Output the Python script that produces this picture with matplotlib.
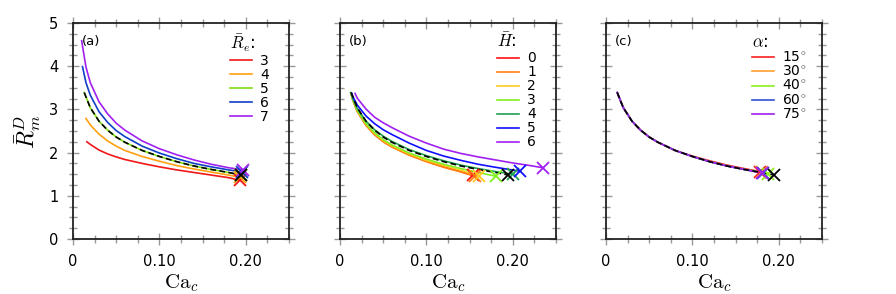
import matplotlib
matplotlib.use('Agg')
import matplotlib.pyplot as plt
from matplotlib.ticker import MultipleLocator, FixedLocator

plt.rcParams['font.family'] = ['DejaVu Sans']
plt.rcParams['mathtext.fontset'] = 'cm'

# reference case (black dashed), shared by all panels
ref_x = [0.013, 0.02, 0.03, 0.04, 0.05, 0.06, 0.08, 0.10, 0.12, 0.14, 0.16, 0.18, 0.195]
ref_y = [3.39, 3.04, 2.73, 2.52, 2.36, 2.24, 2.05, 1.91, 1.79, 1.69, 1.61, 1.54, 1.48]

# (a) R_e
re_labels = ['3', '4', '5', '6', '7']
re_colors = ['#f01818', '#ffa010', '#80e010', '#1040c8', '#a020f0']
re_x = [
    [0.016, 0.02, 0.03, 0.04, 0.05, 0.06, 0.08, 0.10, 0.12, 0.14, 0.16, 0.18, 0.193],
    [0.015, 0.02, 0.03, 0.04, 0.05, 0.06, 0.08, 0.10, 0.12, 0.14, 0.16, 0.18, 0.193],
    [0.013, 0.02, 0.03, 0.04, 0.05, 0.06, 0.08, 0.10, 0.12, 0.14, 0.16, 0.18, 0.195],
    [0.011, 0.015, 0.02, 0.03, 0.04, 0.05, 0.06, 0.08, 0.10, 0.12, 0.14, 0.16, 0.18, 0.196],
    [0.010, 0.015, 0.02, 0.03, 0.04, 0.05, 0.06, 0.08, 0.10, 0.12, 0.14, 0.16, 0.18, 0.197],
]
re_y = [
    [2.25, 2.19, 2.06, 1.97, 1.90, 1.84, 1.75, 1.67, 1.60, 1.54, 1.48, 1.42, 1.36],
    [2.79, 2.64, 2.43, 2.27, 2.15, 2.05, 1.91, 1.80, 1.70, 1.62, 1.55, 1.48, 1.43],
    [3.39, 3.04, 2.73, 2.52, 2.36, 2.24, 2.05, 1.91, 1.79, 1.69, 1.61, 1.54, 1.48],
    [3.99, 3.62, 3.33, 2.95, 2.70, 2.51, 2.37, 2.15, 1.99, 1.86, 1.75, 1.67, 1.60, 1.55],
    [4.59, 3.98, 3.62, 3.18, 2.90, 2.68, 2.52, 2.27, 2.09, 1.95, 1.83, 1.73, 1.65, 1.60],
]

# (b) H
h_labels = ['0', '1', '2', '3', '4', '5', '6']
h_colors = ['#ff1010', '#ff7f10', '#ffc820', '#80f020', '#20a050', '#1010ff', '#a020f0']
h_x = [
    [0.0125, 0.015, 0.02, 0.03, 0.04, 0.05, 0.06, 0.08, 0.10, 0.12, 0.14, 0.154],
    [0.0125, 0.015, 0.02, 0.03, 0.04, 0.05, 0.06, 0.08, 0.10, 0.12, 0.14, 0.156],
    [0.0125, 0.015, 0.02, 0.03, 0.04, 0.05, 0.06, 0.08, 0.10, 0.12, 0.14, 0.161],
    [0.0125, 0.015, 0.02, 0.03, 0.04, 0.05, 0.06, 0.08, 0.10, 0.12, 0.14, 0.16, 0.181],
    [0.0125, 0.015, 0.02, 0.03, 0.04, 0.05, 0.06, 0.08, 0.10, 0.12, 0.14, 0.16, 0.18, 0.200],
    [0.0135, 0.015, 0.02, 0.03, 0.04, 0.05, 0.06, 0.08, 0.10, 0.12, 0.14, 0.16, 0.18, 0.208],
    [0.0174, 0.02, 0.03, 0.04, 0.05, 0.06, 0.08, 0.10, 0.12, 0.14, 0.16, 0.18, 0.20, 0.22, 0.2346],
]
h_y = [
    [3.38, 3.21, 2.96, 2.64, 2.42, 2.26, 2.14, 1.95, 1.80, 1.67, 1.56, 1.47],
    [3.38, 3.20, 2.95, 2.63, 2.41, 2.25, 2.13, 1.94, 1.79, 1.66, 1.55, 1.45],
    [3.38, 3.21, 2.97, 2.66, 2.44, 2.28, 2.16, 1.97, 1.82, 1.70, 1.59, 1.46],
    [3.38, 3.22, 2.98, 2.67, 2.46, 2.30, 2.18, 1.99, 1.85, 1.73, 1.63, 1.54, 1.45],
    [3.39, 3.24, 3.02, 2.73, 2.53, 2.38, 2.26, 2.07, 1.93, 1.81, 1.71, 1.63, 1.56, 1.50],
    [3.37, 3.29, 3.10, 2.85, 2.67, 2.53, 2.42, 2.22, 2.05, 1.92, 1.82, 1.73, 1.66, 1.57],
    [3.37, 3.26, 3.01, 2.82, 2.69, 2.58, 2.38, 2.22, 2.08, 1.98, 1.90, 1.83, 1.76, 1.70, 1.65],
]

# (c) alpha
a_labels = ['15$^{\\circ}$', '30$^{\\circ}$', '40$^{\\circ}$', '60$^{\\circ}$', '75$^{\\circ}$']
a_colors = ['#f82020', '#ffa030', '#90f020', '#3050d8', '#a020f0']
a_x = [
    [0.013, 0.02, 0.03, 0.04, 0.05, 0.06, 0.08, 0.10, 0.12, 0.14, 0.16, 0.178],
    [0.013, 0.02, 0.03, 0.04, 0.05, 0.06, 0.08, 0.10, 0.12, 0.14, 0.16, 0.180],
    [0.013, 0.02, 0.03, 0.04, 0.05, 0.06, 0.08, 0.10, 0.12, 0.14, 0.16, 0.18, 0.188],
    [0.013, 0.02, 0.03, 0.04, 0.05, 0.06, 0.08, 0.10, 0.12, 0.14, 0.16, 0.182],
    [0.013, 0.02, 0.03, 0.04, 0.05, 0.06, 0.08, 0.10, 0.12, 0.14, 0.16, 0.181],
]
a_y = [
    [3.39, 3.04, 2.73, 2.52, 2.36, 2.24, 2.05, 1.92, 1.81, 1.71, 1.63, 1.56],
    [3.39, 3.04, 2.73, 2.52, 2.36, 2.24, 2.05, 1.91, 1.79, 1.69, 1.61, 1.54],
    [3.39, 3.04, 2.73, 2.52, 2.36, 2.24, 2.05, 1.91, 1.79, 1.69, 1.61, 1.54, 1.51],
    [3.39, 3.04, 2.73, 2.52, 2.36, 2.24, 2.05, 1.91, 1.79, 1.69, 1.61, 1.53],
    [3.39, 3.04, 2.73, 2.52, 2.36, 2.24, 2.05, 1.91, 1.79, 1.69, 1.61, 1.52],
]

panels = [
    ('(a)', '$\\bar{R}_e$:', re_labels, re_colors, re_x, re_y, 0.726),
    ('(b)', '$\\bar{H}$:', h_labels, h_colors, h_x, h_y, 0.726),
    ('(c)', '$\\alpha$:', a_labels, a_colors, a_x, a_y, 0.675),
]

fig = plt.figure(figsize=(8.96, 2.94), dpi=100)
lefts = [73 / 896, 340 / 896, 606 / 896]

for i, (tag, ttl, labels, colors, xs, ys, lx) in enumerate(panels):
    ax = fig.add_axes([lefts[i], 1 - 239 / 294, 216 / 896, 216 / 294])
    for lab, c, x, y in zip(labels, colors, xs, ys):
        ax.plot(x, y, color=c, lw=1.2, label=lab)
    ax.plot(ref_x, ref_y, color='black', lw=1.2, dashes=(3.5, 2))
    for c, x, y in zip(colors, xs, ys):
        ax.plot(x[-1], y[-1], marker='x', color=c, ms=8.5, mew=1.3, ls='none')
    ax.plot(ref_x[-1], ref_y[-1], marker='x', color='black', ms=8.5, mew=1.3, ls='none')

    ax.set_xlim(0, 0.25)
    ax.set_ylim(0, 5)
    ax.xaxis.set_major_locator(FixedLocator([0, 0.10, 0.20]))
    ax.xaxis.set_minor_locator(MultipleLocator(0.025))
    ax.yaxis.set_major_locator(MultipleLocator(1))
    ax.yaxis.set_minor_locator(MultipleLocator(0.25))
    ax.tick_params(which='both', direction='inout', top=True, right=True,
                   color='#999999', width=1, labelsize=10.5, pad=6)
    ax.tick_params(which='major', length=9)
    ax.tick_params(which='minor', length=6)
    ax.set_xticklabels(['0', '0.10', '0.20'])
    if i > 0:
        ax.set_yticklabels([])
    for sp in ax.spines.values():
        sp.set_color('#222222')
        sp.set_linewidth(1.3)
    ax.set_xlabel('$\\mathrm{Ca}_c$', fontsize=15, labelpad=3)
    if i == 0:
        ax.set_ylabel('$\\bar{R}_m^D$', fontsize=17, labelpad=4)
    ax.text(0.04, 0.915, tag, transform=ax.transAxes, fontsize=9.5, va='center', ha='left')
    leg = ax.legend(loc='upper left', bbox_to_anchor=(lx, 0.955), frameon=False,
                    title=ttl, title_fontsize=12, fontsize=10, alignment='left',
                    handlelength=1.6, handletextpad=0.6, labelspacing=0.0,
                    borderpad=0, borderaxespad=0)

fig.savefig('out.png', dpi=100)
